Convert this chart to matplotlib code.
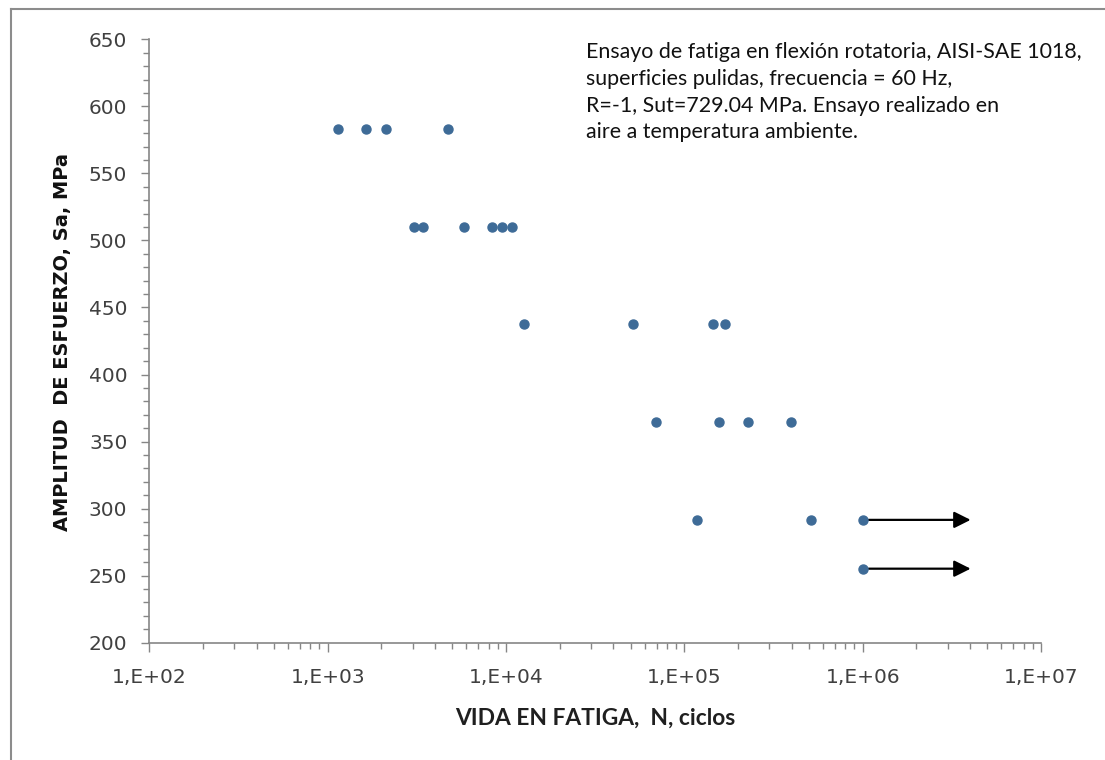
import numpy as np
import matplotlib
matplotlib.use("Agg")
import matplotlib.pyplot as plt
from matplotlib.ticker import FixedLocator, FuncFormatter, NullFormatter, MultipleLocator

# ---------------- data ----------------
stress_levels = [583.2, 510.3, 437.4, 364.5, 291.6, 255.2]   # MPa
cycles_583 = [1141, 1637, 2122, 4730]
cycles_510 = [3057, 3420, 5780, 8340, 9500, 10820]
cycles_437 = [12680, 51300, 143900, 168700]
cycles_364 = [69700, 156000, 229000, 395700]
cycles_292 = [117500, 510600, 1000000]
cycles_255 = [1000000]
runout_N = [1000000, 1000000]
runout_S = [291.6, 255.2]
x_major_ticks = [1e2, 1e3, 1e4, 1e5, 1e6, 1e7]
y_ticks = [200, 250, 300, 350, 400, 450, 500, 550, 600, 650]
note_lines = [
    "Ensayo de fatiga en flexión rotatoria, AISI-SAE 1018,",
    "superficies pulidas, frecuencia = 60 Hz,",
    "R=-1, Sut=729.04 MPa. Ensayo realizado en",
    "aire a temperatura ambiente.",
]
x_title = "VIDA EN FATIGA,  N, ciclos"
y_title = "AMPLITUD  DE ESFUERZO, Sa, MPa"

all_cycles = [cycles_583, cycles_510, cycles_437, cycles_364, cycles_292, cycles_255]

W, H = 1105, 760
fig = plt.figure(figsize=(W / 100, H / 100), dpi=100)
fig.patch.set_facecolor("white")

def fx(px):
    return px / W

def fy(py):
    return 1 - py / H

ax_l, ax_r, ax_t, ax_b = 149.3, 1041.0, 39.3, 642.7
ax = fig.add_axes([fx(ax_l), fy(ax_b), fx(ax_r - ax_l), (ax_b - ax_t) / H])

marker_color = "#3E6B97"
for S, Ns in zip(stress_levels, all_cycles):
    ax.plot(Ns, [S] * len(Ns), linestyle="none", marker="o", ms=6.5,
            color=marker_color, mec=marker_color, zorder=3)

# run-out arrows
for N, S in zip(runout_N, runout_S):
    ax.annotate("", xy=(N * 4.03, S), xytext=(N * 1.08, S),
                arrowprops=dict(arrowstyle="-|>,head_length=1.0,head_width=0.5",
                                color="black", lw=1.6, shrinkA=0, shrinkB=0),
                zorder=2)

ax.set_xscale("log")
ax.set_xlim(1e2, 1e7)
ax.set_ylim(200, 650)

spine_c = "#868686"
for s in ["top", "right"]:
    ax.spines[s].set_visible(False)
for s in ["left", "bottom"]:
    ax.spines[s].set_color(spine_c)
    ax.spines[s].set_linewidth(1.2)

ax.xaxis.set_major_locator(FixedLocator(x_major_ticks))
ax.xaxis.set_major_formatter(FuncFormatter(lambda v, p: "1,E+%02d" % int(round(np.log10(v)))))
ax.xaxis.set_minor_locator(matplotlib.ticker.LogLocator(base=10, subs=np.arange(2, 10)))
ax.xaxis.set_minor_formatter(NullFormatter())
ax.yaxis.set_major_locator(FixedLocator(y_ticks))
ax.yaxis.set_minor_locator(MultipleLocator(10))

ax.tick_params(axis="x", which="major", direction="out", length=6.5, width=1.0,
               color=spine_c, labelsize=14.5, labelcolor="#404040", pad=12)
ax.tick_params(axis="x", which="minor", direction="out", length=4.3, width=1.0, color=spine_c)
ax.tick_params(axis="y", which="major", direction="out", length=5.8, width=1.0,
               color=spine_c, labelsize=14.5, labelcolor="#404040", pad=10)
ax.tick_params(axis="y", which="minor", direction="out", length=4.0, width=1.0, color=spine_c)
for lab in ax.get_xticklabels() + ax.get_yticklabels():
    lab.set_family("DejaVu Sans")

fig.canvas.draw()
renderer = fig.canvas.get_renderer()

def fit(txt, target_w):
    bb = txt.get_window_extent(renderer=renderer)
    w = bb.width if txt.get_rotation() == 0 else bb.height
    txt.set_fontsize(txt.get_fontsize() * target_w / w)

# axis titles
xt = fig.text(fx(595), fy(718), x_title, ha="center", va="center",
              fontsize=13, fontweight="bold", family=["Lato", "DejaVu Sans"], color="#1f1f1f")
yt = fig.text(fx(63), fy(342), y_title, ha="center", va="center", rotation=90,
              fontsize=13, fontweight="bold", family=["DejaVu Sans"], color="#111111")
fit(xt, 280)
fit(yt, 375)

# note text
note_ys = [52, 79, 106, 132]
note_txts = []
for line, y in zip(note_lines, note_ys):
    t = fig.text(fx(586), fy(y), line, ha="left", va="center", fontsize=13,
                 family=["Lato", "DejaVu Sans"], color="#111111")
    note_txts.append(t)
fig.canvas.draw()
scale = 492 / note_txts[0].get_window_extent(renderer=renderer).width
for t in note_txts:
    t.set_fontsize(t.get_fontsize() * scale)

# outer frame (left and top edges visible)
fig.add_artist(plt.Line2D([fx(11), fx(11)], [fy(9), 0], transform=fig.transFigure,
                          color="#8c8c8c", lw=1.5))
fig.add_artist(plt.Line2D([fx(11), 1], [fy(9), fy(9)], transform=fig.transFigure,
                          color="#8c8c8c", lw=1.5))

fig.savefig("out.png", dpi=100, facecolor="white")
